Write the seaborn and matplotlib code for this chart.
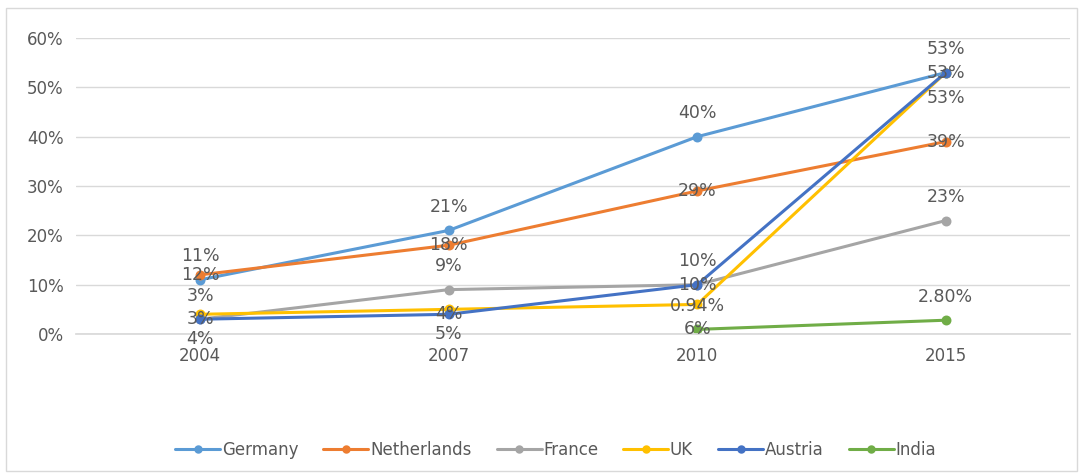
import pandas as pd
import matplotlib.pyplot as plt
import seaborn as sns
from matplotlib.patches import Rectangle

# values
years = ['2004', '2007', '2010', '2015']
countries = ['Germany', 'Netherlands', 'France', 'UK', 'Austria', 'India']
germany = [0.11, 0.21, 0.40, 0.53]
netherlands = [0.12, 0.18, 0.29, 0.39]
france = [0.03, 0.09, 0.10, 0.23]
uk = [0.04, 0.05, 0.06, 0.53]
austria = [0.03, 0.04, 0.10, 0.53]
india = [None, None, 0.0094, 0.028]
labels = {
    'Germany': ['11%', '21%', '40%', '53%'],
    'Netherlands': ['12%', '18%', '29%', '39%'],
    'France': ['3%', '9%', '10%', '23%'],
    'UK': ['4%', '5%', '6%', '53%'],
    'Austria': ['3%', '4%', '10%', '53%'],
    'India': [None, None, '0.94%', '2.80%'],
}
colors = ['#5B9BD5', '#ED7D31', '#A5A5A5', '#FFC000', '#4472C4', '#70AD47']

series = dict(zip(countries, [germany, netherlands, france, uk, austria, india]))
rows = []
for c, vals in series.items():
    for y, v in zip(years, vals):
        rows.append({'year': y, 'country': c, 'value': v})
df = pd.DataFrame(rows)

sns.set_theme(style='white')
plt.rcParams['font.family'] = ['DejaVu Sans']
text_color = '#595959'

fig = plt.figure(figsize=(10.83, 4.75), dpi=100)
ax = fig.add_axes([0.0702, 0.2968, 0.9178, 0.6232])

sns.pointplot(data=df.dropna(), x='year', y='value', hue='country', order=years,
              hue_order=countries, palette=colors, errorbar=None, dodge=False,
              markers='o', markersize=5.5, linewidth=2.2, ax=ax, legend=True)

# data labels: position relative to the point, per series
place = {'Germany': 17, 'Netherlands': 0, 'France': 17, 'UK': -18, 'Austria': 0, 'India': 17}
for c in countries:
    for i, (v, lab) in enumerate(zip(series[c], labels[c])):
        if v is None:
            continue
        ax.annotate(lab, (i, v), xytext=(0, place[c]), textcoords='offset points',
                    ha='center', va='center', fontsize=12.5, color=text_color)

ax.set_xlim(-0.5, 3.5)
ax.set_ylim(0, 0.6)
ax.set_yticks([i / 10 for i in range(7)])
ax.set_yticklabels([f'{i * 10}%' for i in range(7)])
ax.grid(axis='y', color='#D9D9D9', linewidth=1)
ax.set_axisbelow(True)
for s in ['top', 'right', 'left']:
    ax.spines[s].set_visible(False)
ax.spines['bottom'].set_color('#D9D9D9')
ax.tick_params(axis='both', colors=text_color, labelsize=12, length=0)
ax.tick_params(axis='y', pad=9)
ax.tick_params(axis='x', pad=9)
ax.set_xlabel('')
ax.set_ylabel('')

handles, lbls = ax.get_legend_handles_labels()
ax.legend_.remove()
leg = fig.legend(handles, lbls, loc='center', bbox_to_anchor=(0.513, 0.053), ncol=6,
                 frameon=False, fontsize=12, handlelength=2.7, columnspacing=1.5,
                 handletextpad=0.1, markerscale=0.8)
for t in leg.get_texts():
    t.set_color(text_color)

fig.patches.append(Rectangle((0.006, 0.008), 0.988, 0.975, transform=fig.transFigure,
                             fill=False, edgecolor='#D9D9D9', linewidth=1))

fig.savefig('out.png', dpi=100)
